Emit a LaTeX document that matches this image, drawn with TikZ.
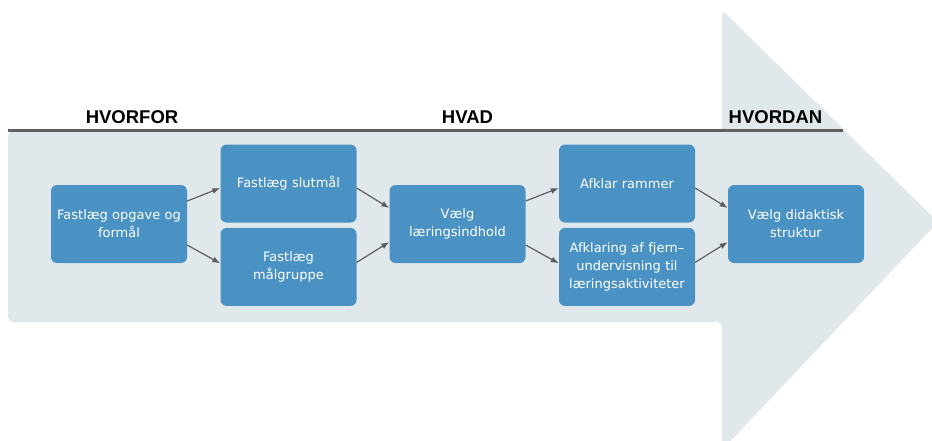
\documentclass[tikz,border=0pt]{standalone}
\usepackage{fontspec}
\setmainfont{DejaVu Sans}
\newfontfamily\headfont{Liberation Sans}
\usetikzlibrary{arrows.meta,positioning}

\begin{document}
\begin{tikzpicture}[x=1pt,y=-1pt,
    stepbox/.style={fill=boxblue, rounded corners=6pt, minimum width=136pt,
        minimum height=78pt, text width=132pt, inner sep=0pt, align=center,
        text=white, font=\fontsize{13}{18}\selectfont},
    phase/.style={anchor=base, font=\headfont\bfseries\fontsize{18.5}{20}\selectfont},
    flow/.style={draw=arrowgray, line width=1.2pt, -{Latex[length=8pt,width=6pt]}}]
    \definecolor{boxblue}{HTML}{4A92C4}
    \definecolor{bandgray}{HTML}{E1E8EC}
    \definecolor{arrowgray}{HTML}{5E5E5E}
    \definecolor{rulegray}{HTML}{606060}

    \useasboundingbox (0,0) rectangle (932,440);
    \clip (0,0) rectangle (932,440);

    % the big arrow behind the steps
    \fill[bandgray, rounded corners=5pt] (8,131) -- (722,131) -- (722,10) --
         (938,222) -- (722,450) -- (722,322) -- (8,322) -- cycle;

    % rule and phase titles
    \draw[rulegray, line width=3pt] (8,130) -- (843,130);
    \node[phase] (hvorfor) at (132,123.5) {HVORFOR};
    \node[phase] (hvad)    at (467.5,123.5) {HVAD};
    \node[phase] (hvordan) at (775.5,123.5) {HVORDAN};

    % steps
    \node[stepbox] (opgave) at (119,224) {Fastlæg opgave og\\formål};
    \node[stepbox] (slutmaal) at (288.5,183.5) {Fastlæg slutmål};
    \node[stepbox, below=5pt of slutmaal] (maalgruppe) {Fastlæg\\målgruppe};
    \node[stepbox] (indhold) at (457.5,224) {Vælg\\læringsindhold};
    \node[stepbox] (rammer) at (627,183.5) {Afklar rammer};
    \node[stepbox, below=5pt of rammer] (fjern)
         {Afklaring af fjern–\\undervisning til\\læringsaktiviteter};
    \node[stepbox] (struktur) at (796,224) {Vælg didaktisk\\struktur};

    % connectors
    \draw[flow] ([yshift=23pt]opgave.east) -- ([yshift=-4.5pt]slutmaal.west);
    \draw[flow] ([yshift=-21pt]opgave.east) -- ([yshift=3.5pt]maalgruppe.west);
    \draw[flow] ([yshift=-4.5pt]slutmaal.east) -- ([yshift=16pt]indhold.west);
    \draw[flow] ([yshift=4.5pt]maalgruppe.east) -- ([yshift=-18pt]indhold.west);
    \draw[flow] ([yshift=23pt]indhold.east) -- ([yshift=-4.5pt]rammer.west);
    \draw[flow] ([yshift=-21pt]indhold.east) -- ([yshift=3.5pt]fjern.west);
    \draw[flow] ([yshift=-4.5pt]rammer.east) -- ([yshift=16pt]struktur.west);
    \draw[flow] ([yshift=4.5pt]fjern.east) -- ([yshift=-18pt]struktur.west);
\end{tikzpicture}
\end{document}
